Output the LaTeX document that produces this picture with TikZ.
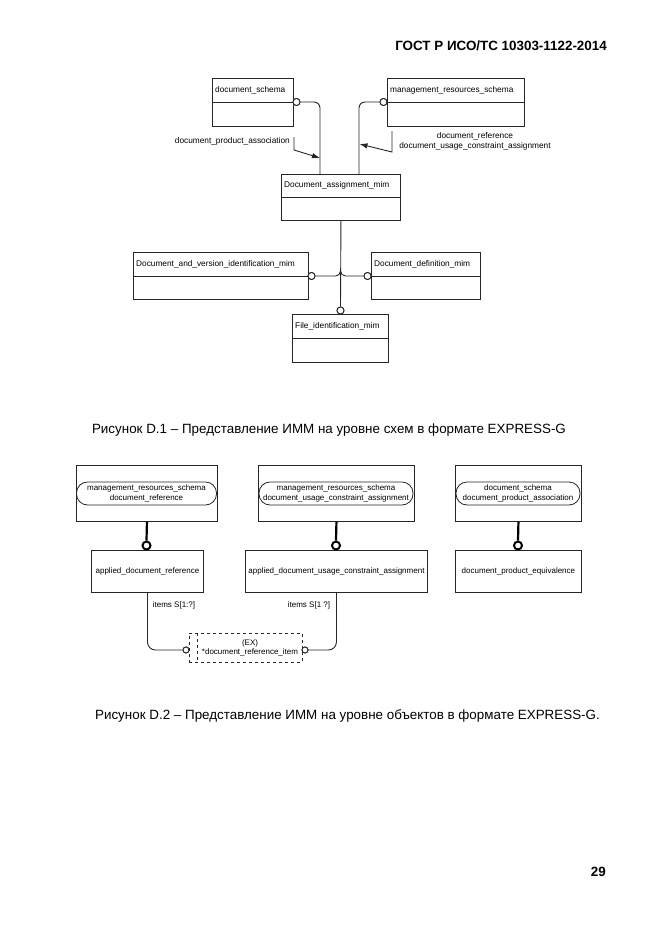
\documentclass[tikz,border=0pt]{standalone}
\usepackage{fontspec}
\setmainfont{Liberation Sans}
\usetikzlibrary{arrows.meta}
\newcommand\entbox[7]{%
  \node[ent, minimum width={#4-#2}, minimum height={#5-#3}] (#1) at (#2,#3) {};
  \draw[conn] (#1.west |- 0,#6) -- (#1.east |- 0,#6);
  \node[lbl] (#1-t) at ({#2+3},{(#3+#6)/2}) {#7};}
\begin{document}
\begin{tikzpicture}[x=1pt,y=-1pt,
  ent/.style={draw=black!85, line width=0.9pt, inner sep=0pt, anchor=north west},
  conn/.style={draw=black!85, line width=0.9pt},
  lbl/.style={font=\fontsize{8.3}{9.6}\selectfont, inner sep=0pt, anchor=west},
  small/.style={font=\fontsize{8}{9.6}\selectfont, inner sep=0pt, align=center},
  circ/.style={circle, draw=black!85, fill=white, minimum size=7pt, inner sep=0pt, line width=0.9pt},
  bcirc/.style={circle, draw=black, fill=white, minimum size=8pt, inner sep=0pt, line width=2pt},
  thickl/.style={draw=black, line width=2.2pt},
  pill/.style={draw=black!85, line width=0.8pt, rounded corners=11pt, minimum height=23pt, inner sep=0pt, align=center, font=\fontsize{8}{9.6}\selectfont},
  captxt/.style={font=\fontsize{13.4}{16}\selectfont, inner sep=0pt},
  arr/.style={conn, -{Latex[length=8pt,width=5.5pt]}}
]
\useasboundingbox (0,0) rectangle (661,935);

% header and page number
\node[font=\bfseries\fontsize{13.4}{16}\selectfont, inner sep=0pt, anchor=east] (hdr) at (607,46) {ГОСТ Р ИСО/ТС 10303-1122-2014};
\node[font=\bfseries\fontsize{13.4}{16}\selectfont, inner sep=0pt, anchor=east] (pg) at (606,872) {29};

% ---------- Figure D.1 ----------
\entbox{ds}{212}{78}{293}{126}{102}{document\_schema}
\entbox{mrs}{387}{78}{524}{126}{102}{management\_resources\_schema}
\entbox{dam}{281}{174}{400}{220}{197}{Document\_assignment\_mim}
\entbox{dvi}{133}{252}{308}{299}{276}{Document\_and\_version\_identification\_mim}
\entbox{ddm}{371}{252}{480}{299}{276}{Document\_definition\_mim}
\entbox{fim}{292}{314}{388}{362}{338}{File\_identification\_mim}

\node[circ] (c1) at (296.5,102) {};
\node[circ] (c2) at (383.5,102) {};
\node[circ] (c3) at (311.5,276) {};
\node[circ] (c4) at (367.5,276) {};
\node[circ] (c5) at (340.5,310.5) {};

\coordinate (t1) at (320,174);
\coordinate (t2) at (359,174);
\draw[conn, rounded corners=6pt] (c1.east) -| (t1);
\draw[conn, rounded corners=6pt] (c2.west) -| (t2);
\draw[conn] (dam.south) -- (c5.north);
\coordinate (j) at (340.5,268);
\draw[conn, rounded corners=5pt] (j) |- (c3.east);
\draw[conn, rounded corners=5pt] (j) |- (c4.west);
\node[circ] at (c1) {};
\node[circ] at (c2) {};
\node[circ] at (c3) {};
\node[circ] at (c4) {};
\node[circ] at (c5) {};

\node[lbl, anchor=east] (lpa) at (290,141) {document\_product\_association};
\coordinate (a1s) at (294,137);
\coordinate (a1m) at (294,150);
\coordinate (a1e) at (320,158);
\draw[arr] (a1s) -- (a1m) -- (a1e);

\node[lbl, anchor=center, align=center] (lre) at (475,141.5) {document\_reference\\document\_usage\_constraint\_assignment};
\coordinate (a2s) at (392,131);
\coordinate (a2m) at (392,152);
\coordinate (a2e) at (359.5,144);
\draw[arr] (a2s) -- (a2m) -- (a2e);

\node[captxt] (cap1) at (329,430) {Рисунок D.1 – Представление ИММ на уровне схем в формате EXPRESS-G};

% ---------- Figure D.2 ----------
\node[ent, minimum width=141, minimum height=56] (u1) at (76,465) {};
\node[ent, minimum width=156, minimum height=56] (u2) at (258,465) {};
\node[ent, minimum width=126, minimum height=56] (u3) at (455,465) {};
\node[pill, minimum width=140] (p1) at (146.5,493.5) {management\_resources\_schema\\document\_reference};
\node[pill, minimum width=154] (p2) at (336,493.5) {management\_resources\_schema\\document\_usage\_constraint\_assignment};
\node[pill, minimum width=124] (p3) at (518,493.5) {document\_schema\\document\_product\_association};

\node[ent, minimum width=112, minimum height=42, anchor=north west] (l1) at (91,550) {};
\node[ent, minimum width=182, minimum height=42, anchor=north west] (l2) at (245,550) {};
\node[ent, minimum width=126, minimum height=42, anchor=north west] (l3) at (455,550) {};
\node[small] (l1t) at (l1.center) {applied\_document\_reference};
\node[small] (l2t) at (l2.center) {applied\_document\_usage\_constraint\_assignment};
\node[small] (l3t) at (l3.center) {document\_product\_equivalence};

\node[bcirc] (b1) at (146.5,545.5) {};
\node[bcirc] (b2) at (336,545.5) {};
\node[bcirc] (b3) at (518,545.5) {};
\draw[thickl] (u1.south) -- (b1.north);
\draw[thickl] (u2.south) -- (b2.north);
\draw[thickl] (u3.south) -- (b3.north);

\node[draw=black!85, dashed, line width=0.8pt, minimum width=113, minimum height=29, inner sep=0pt, anchor=north west] (ex) at (189,633) {};
\draw[draw=black!85, dashed, line width=0.8pt] ([xshift=8pt]ex.north west) -- ([xshift=8pt]ex.south west);
\node[small] (ext) at (250,648) {(EX)\\*document\_reference\_item};

\node[circ, minimum size=6pt] (d1) at (186,650) {};
\node[circ, minimum size=6pt] (d2) at (305,650) {};
\draw[conn, rounded corners=8pt] (l1.south) |- (d1.west);
\draw[conn, rounded corners=8pt] (l2.south) |- (d2.east);
\node[circ, minimum size=6pt] at (d1) {};
\node[circ, minimum size=6pt] at (d2) {};

\node[small] (it1) at (174,605) {items S[1:?]};
\node[small] (it2) at (309,605) {items S[1 ?]};

\node[captxt] (cap2) at (347.5,716) {Рисунок D.2 – Представление ИММ на уровне объектов в формате EXPRESS-G.};
\end{tikzpicture}
\end{document}
